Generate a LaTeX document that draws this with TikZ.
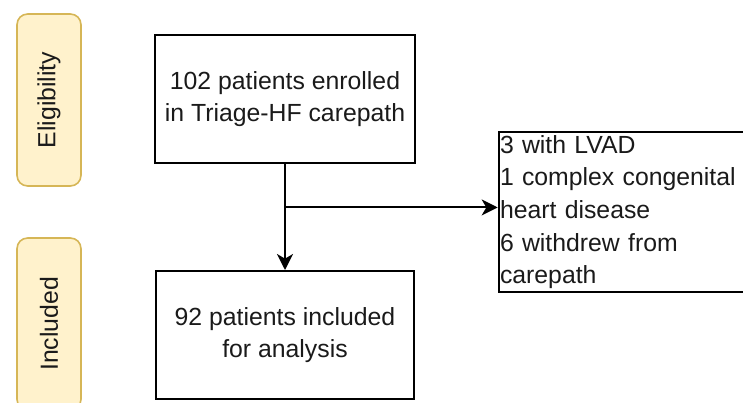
\documentclass[tikz,border=0pt]{standalone}
\usepackage{fontspec}
\setmainfont{Liberation Sans}
\usetikzlibrary{calc,arrows.meta}

\definecolor{tagfill}{HTML}{FFF2CC}
\definecolor{tagline}{HTML}{D6B656}
\definecolor{txtgray}{HTML}{1A1A1A}

\tikzset{
	stagebox/.style={draw=black, line width=1.5pt, align=center, text=txtgray,
		font=\fontsize{18.6}{24.5}\selectfont},
	stagetag/.style={draw=tagline, fill=tagfill, line width=1.2pt, rounded corners=8pt,
		minimum width=48pt, minimum height=129pt, text=txtgray,
		font=\fontsize{18.6}{24.5}\selectfont},
	flow/.style={-{Stealth[length=12pt, width=12pt, inset=3.5pt]}, line width=1.5pt}
}

\begin{document}
\begin{tikzpicture}[x=0.75pt, y=-0.75pt]
\useasboundingbox (0,0) rectangle (743,403);

% phase tags on the left
\node (tagelig) at (49,100) [stagetag] {\rotatebox{90}{Eligibility}};
\node (tagincl) at (49,324) [stagetag] {\rotatebox{90}{Included}};

% main boxes
\node (enrolled) at (285,99) [stagebox, minimum width=195pt, minimum height=96pt]
	{102 patients enrolled\\in Triage-HF carepath};
\node (analysis) at (285,335) [stagebox, minimum width=193.5pt, minimum height=96pt]
	{92 patients included\\for analysis};
\node (excluded) at (622,212) [stagebox, align=left, inner sep=1pt, text width=183pt,
	minimum height=120pt]
	{3 with LVAD\\1 complex congenital\\heart disease\\6 withdrew from\\carepath};

% connectors
\coordinate (split) at ($(enrolled.south)!0.41!(analysis.north)$);
\draw [flow] (enrolled.south) -- (analysis.north);
\draw [flow] (split) -- (split -| excluded.west);
\end{tikzpicture}
\end{document}
